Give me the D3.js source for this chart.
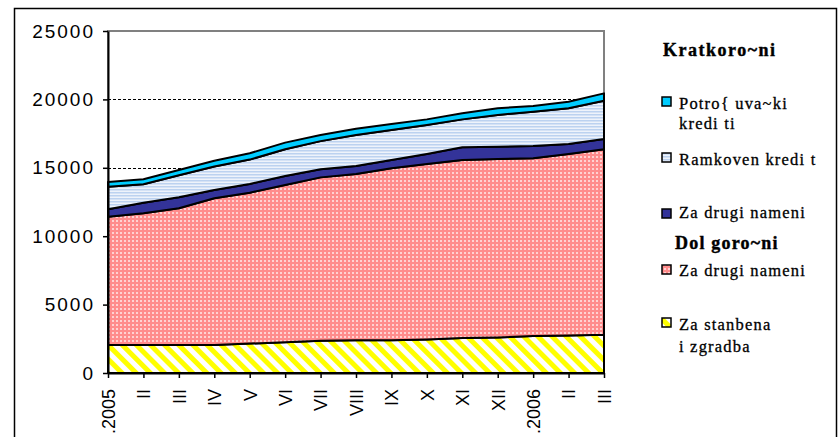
<!DOCTYPE html>
<html><head><meta charset="utf-8">
<script src="https://cdn.jsdelivr.net/npm/d3@7"></script>
<style>body{margin:0;background:#fff;overflow:hidden} svg{display:block}</style>
</head><body>
<svg id="chart" width="839" height="437"></svg>
<script>
// ---- data ----
const categories = [".2005","II","III","IV","V","VI","VII","VIII","IX","X","XI","XII",".2006","II","III"];
const zaStanbena   = [2050, 2050, 2050, 2050, 2150, 2250, 2350, 2400, 2400, 2450, 2550, 2600, 2700, 2750, 2800];
const dolgZaDrugi  = [9380, 9620, 9990, 10720, 11030, 11490, 11950, 12150, 12560, 12830, 13020, 13040, 12990, 13260, 13550];
const kratkZaDrugi = [540, 780, 800, 610, 640, 660, 590, 580, 610, 730, 930, 900, 900, 730, 750];
const ramkoven     = [1650, 1350, 1610, 1720, 1780, 1950, 2060, 2270, 2190, 2120, 2040, 2320, 2510, 2610, 2800];
const potrosuvacki = [340, 360, 390, 420, 460, 490, 450, 450, 440, 410, 440, 490, 420, 480, 540];
const yTicks = [0, 5000, 10000, 15000, 20000, 25000];
const gridValues = [5000, 10000, 15000, 20000];
const seriesKeys = ["zaStanbena","dolgZaDrugi","kratkZaDrugi","ramkoven","potrosuvacki"];
const legendHeads = ["Kratkoro~ni", "Dol goro~ni"];
const legendLabels = {
  potrosuvacki: ["Potro{ uva~ki", "kredi ti"],
  ramkoven: ["Ramkoven kredi t"],
  kratkZaDrugi: ["Za drugi nameni"],
  dolgZaDrugi: ["Za drugi nameni"],
  zaStanbena: ["Za stanbena", "i zgradba"]
};

// ---- setup ----
const svg = d3.select("#chart");
const plot = {left:108, right:604, top:31, bottom:373};
const idx = d3.range(categories.length);
const x = d3.scalePoint().domain(idx).range([plot.left, plot.right]);
const y = d3.scaleLinear().domain([0, 25000]).range([plot.bottom, plot.top]);

const defs = svg.append("defs");
const pY = defs.append("pattern").attr("id","pYellow").attr("patternUnits","userSpaceOnUse")
  .attr("width",10).attr("height",10).attr("patternTransform","rotate(-45)");
pY.append("rect").attr("width",10).attr("height",10).attr("fill","#ffffff");
pY.append("rect").attr("width",5).attr("height",10).attr("fill","#ffff00");
const pP = defs.append("pattern").attr("id","pPink").attr("patternUnits","userSpaceOnUse")
  .attr("width",4).attr("height",4);
pP.append("rect").attr("width",4).attr("height",4).attr("fill","#ff8c8c");
pP.append("rect").attr("width",2).attr("height",2).attr("fill","#ffd2d2");
const pB = defs.append("pattern").attr("id","pBlue").attr("patternUnits","userSpaceOnUse")
  .attr("width",4).attr("height",3);
pB.append("rect").attr("width",4).attr("height",3).attr("fill","#eef3fb");
pB.append("rect").attr("width",4).attr("height",1.5).attr("fill","#bcd2f0");

const fills = {
  zaStanbena: "url(#pYellow)",
  dolgZaDrugi: "url(#pPink)",
  kratkZaDrugi: "#333399",
  ramkoven: "url(#pBlue)",
  potrosuvacki: "#00ccff"
};

// outer frame
svg.append("rect").attr("x",14.5).attr("y",8.5).attr("width",822).attr("height",445)
  .attr("fill","none").attr("stroke","#000").attr("stroke-width",1.5);

// gridlines
svg.append("g").selectAll("line").data(gridValues).join("line")
  .attr("x1",plot.left).attr("x2",plot.right)
  .attr("y1",d=>Math.round(y(d))+0.5).attr("y2",d=>Math.round(y(d))+0.5)
  .attr("stroke","#000").attr("stroke-width",1).attr("stroke-dasharray","3,2");

// plot border (grey)
svg.append("rect").attr("x",plot.left).attr("y",plot.top)
  .attr("width",plot.right-plot.left).attr("height",plot.bottom-plot.top)
  .attr("fill","none").attr("stroke","#808080").attr("stroke-width",2);

// stacked areas
const rows = idx.map(i => ({
  zaStanbena: zaStanbena[i], dolgZaDrugi: dolgZaDrugi[i], kratkZaDrugi: kratkZaDrugi[i],
  ramkoven: ramkoven[i], potrosuvacki: potrosuvacki[i]
}));
const stacked = d3.stack().keys(seriesKeys)(rows);
const area = d3.area().x((d,i)=>x(i)).y0(d=>y(d[0])).y1(d=>y(d[1]));
svg.append("g").selectAll("path").data(stacked).join("path")
  .attr("d", area)
  .attr("fill", s => fills[s.key])
  .attr("stroke","#000").attr("stroke-width",2).attr("stroke-linejoin","round");

// axes
const yAxis = svg.append("g").attr("transform",`translate(${plot.left},0)`)
  .call(d3.axisLeft(y).tickValues(yTicks).tickSize(5).tickSizeOuter(0).tickPadding(8).tickFormat(d3.format("d")));
yAxis.select(".domain").attr("stroke","#000").attr("stroke-width",2);
yAxis.selectAll(".tick line").attr("stroke","#000").attr("stroke-width",1.5);
yAxis.selectAll("text").attr("font-family","'Liberation Sans', Arial, sans-serif")
  .attr("font-size",19).attr("letter-spacing",2).attr("fill","#000");

const xAxis = svg.append("g").attr("transform",`translate(0,${plot.bottom})`)
  .call(d3.axisBottom(x).tickFormat(i=>categories[i]).tickSize(5).tickSizeOuter(0));
xAxis.select(".domain").attr("stroke","#000").attr("stroke-width",2);
xAxis.selectAll(".tick line").attr("stroke","#000").attr("stroke-width",1.5);
xAxis.selectAll("text")
  .attr("font-family","'Liberation Sans', Arial, sans-serif").attr("font-size",18).attr("fill","#000")
  .attr("transform","rotate(-90)").attr("text-anchor","end")
  .attr("x",-16).attr("y",0).attr("dy","0.35em");

// legend
const lg = svg.append("g").attr("font-family","'Liberation Serif', 'Times New Roman', serif").attr("fill","#000");
lg.append("text").attr("x",663).attr("y",56).attr("font-size",18).attr("font-weight","bold")
  .attr("letter-spacing",1.5).attr("stroke","#000").attr("stroke-width",0.4).text(legendHeads[0]);
lg.append("text").attr("x",675).attr("y",249).attr("font-size",18).attr("font-weight","bold")
  .attr("letter-spacing",1.2).attr("stroke","#000").attr("stroke-width",0.4).text(legendHeads[1]);

const legendItems = [
  {key:"potrosuvacki", sy:97, by:[108.5,129]},
  {key:"ramkoven", sy:153, by:[164.5]},
  {key:"kratkZaDrugi", sy:209, by:[218]},
  {key:"dolgZaDrugi", sy:265, by:[276]},
  {key:"zaStanbena", sy:318, by:[330,351.5]}
];
legendItems.forEach(it => {
  lg.append("rect").attr("x",662).attr("y",it.sy).attr("width",9).attr("height",9)
    .attr("fill",fills[it.key]).attr("stroke","#000").attr("stroke-width",1.5);
  legendLabels[it.key].forEach((t,j) => {
    lg.append("text").attr("x",679).attr("y",it.by[j]).attr("font-size",16.5)
      .attr("letter-spacing",1.2).attr("stroke","#000").attr("stroke-width",0.3).text(t);
  });
});
</script>
</body></html>
